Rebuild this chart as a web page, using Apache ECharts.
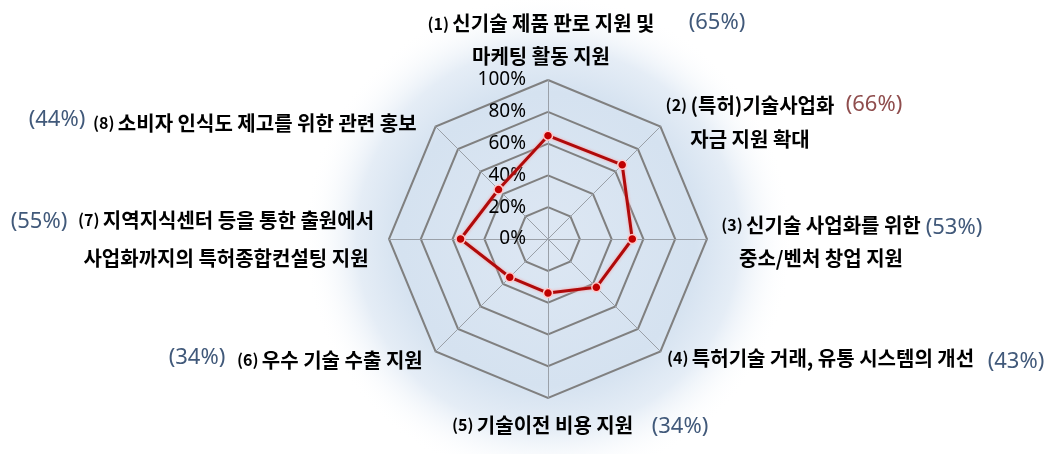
<!DOCTYPE html>
<html><head><meta charset="utf-8">
<script src="https://cdn.jsdelivr.net/npm/echarts@6/dist/echarts.min.js"></script>
<style>html,body{margin:0;padding:0;background:#fff}#c{width:1052px;height:454px}</style>
</head><body><div id="c"></div>
<script>
// ---- data ----
const prefixes = ['(1)', '(2)', '(3)', '(4)', '(5)', '(6)', '(7)', '(8)'];
const categories = [
  '신기술 제품 판로 지원 및\n마케팅 활동 지원',
  '(특허)기술사업화\n자금 지원 확대',
  '신기술 사업화를 위한\n중소/벤처 창업 지원',
  '특허기술 거래, 유통 시스템의 개선',
  '기술이전 비용 지원',
  '우수 기술 수출 지원',
  '지역지식센터 등을 통한 출원에서\n사업화까지의 특허종합컨설팅 지원',
  '소비자 인식도 제고를 위한 관련 홍보'
];
const values = [65, 66, 53, 43, 34, 34, 55, 44];
const highlightIndex = [1];
const tickLabels = ['0%', '20%', '40%', '60%', '80%', '100%'];

// ---- layout (label placement) ----
const nameLayout = [
  { x: 541, y: 40, align: 'center', lh: 33 },
  { x: 750, y: 122, align: 'center', lh: 34 },
  { x: 821, y: 241.5, align: 'center', lh: 33 },
  { x: 667, y: 358, align: 'left', lh: 30 },
  { x: 452, y: 425, align: 'left', lh: 30 },
  { x: 237, y: 360, align: 'left', lh: 30 },
  { x: 226, y: 239, align: 'center', lh: 38 },
  { x: 93, y: 123, align: 'left', lh: 30 }
];
const pctLayout = [
  { x: 717, y: 23 }, { x: 874, y: 105 }, { x: 954, y: 228 }, { x: 1016, y: 362 },
  { x: 680, y: 427 }, { x: 197, y: 358 }, { x: 39, y: 222 }, { x: 57, y: 120 }
];

// ECharts places indicators counter-clockwise; the chart runs clockwise.
const order = [0, 7, 6, 5, 4, 3, 2, 1];

const KFONT = '"Noto Sans CJK KR", "Noto Sans", sans-serif';
const graphics = [{
  type: 'circle', z: 0, silent: true,
  shape: { cx: 548, cy: 239, r: 245 },
  style: {
    fill: new echarts.graphic.RadialGradient(0.5, 0.5, 0.5, [
      { offset: 0, color: '#dde7f3' },
      { offset: 0.6, color: '#d5e2f0' },
      { offset: 0.78, color: '#e5edf6' },
      { offset: 1, color: 'rgba(255,255,255,0)' }
    ])
  }
}];
categories.forEach((c, i) => {
  const lines = c.split('\n');
  const txt = lines.map((l, k) => (k === 0 ? '{p|' + prefixes[i] + '} ' : '') + '{t|' + l + '}').join('\n');
  const L = nameLayout[i];
  graphics.push({
    type: 'text', z: 10, silent: true,
    style: {
      x: L.x, y: L.y, text: txt, align: L.align, verticalAlign: 'middle',
      rich: {
        p: { fontFamily: KFONT, fontSize: 16, fontWeight: 'bold', fill: '#000', lineHeight: L.lh },
        t: { fontFamily: KFONT, fontSize: 20, fontWeight: 'bold', fill: '#000', lineHeight: L.lh }
      }
    }
  });
  const P = pctLayout[i];
  graphics.push({
    type: 'text', z: 10, silent: true,
    style: {
      x: P.x, y: P.y, text: '(' + values[i] + '%)', align: 'center', verticalAlign: 'middle',
      fontFamily: '"Noto Sans", sans-serif', fontSize: 22,
      fill: highlightIndex.includes(i) ? '#8f4d4d' : '#41597a'
    }
  });
});

const chart = echarts.init(document.getElementById('c'));
chart.setOption({
  animation: false,
  backgroundColor: '#ffffff',
  graphic: graphics,
  radar: {
    center: [548, 239], radius: 159, startAngle: 90, shape: 'polygon', splitNumber: 5,
    indicator: order.map((idx, k) => ({
      name: '', min: 0, max: 100,
      axisLabel: k === 0 ? {
        show: true, color: '#000', fontSize: 19, fontFamily: '"Noto Sans", sans-serif',
        formatter: v => tickLabels[Math.round(v / 20)], margin: 22
      } : undefined
    })),
    axisName: { show: false },
    splitLine: { lineStyle: { color: '#808080', width: 2 } },
    splitArea: { show: false },
    axisLine: { lineStyle: { color: '#9aa0a8', width: 1 } },
    axisTick: { show: false },
    axisLabel: { show: false }
  },
  series: [{
    type: 'radar', z: 5,
    symbol: 'circle', symbolSize: 9,
    lineStyle: { color: '#b00a0a', width: 3, shadowColor: 'rgba(255,150,150,0.95)', shadowBlur: 3 },
    itemStyle: { color: '#c00000', borderColor: '#ffc8c8', borderWidth: 1.5 },
    data: [{ value: order.map(idx => values[idx]) }]
  }]
});
</script></body></html>
